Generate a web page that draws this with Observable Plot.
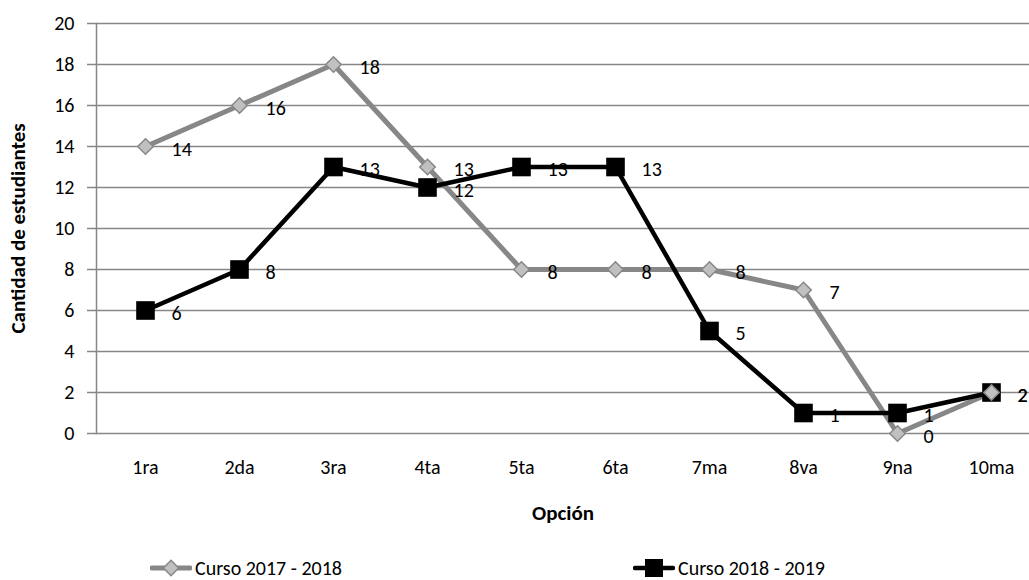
<!DOCTYPE html>
<html>
<head>
<meta charset="utf-8">
<script src="https://cdn.jsdelivr.net/npm/d3@7"></script>
<script src="https://cdn.jsdelivr.net/npm/@observablehq/plot@0.6"></script>
<style>
  html, body { margin: 0; padding: 0; background: #fff; overflow: hidden; }
  body { width: 1029px; height: 580px; font-family: Carlito, Calibri, Lato, "Liberation Sans", sans-serif; }
  #chart svg { display: block; }
  #legend { position: relative; height: 45px; font-size: 20px; color: #000; }
  .item { position: absolute; top: 21px; display: flex; align-items: center; }
  .item svg { display: block; margin-right: 3px; }
</style>
</head>
<body>
<div id="chart"></div>
<div id="legend"></div>
<script>
const categorias = ["1ra", "2da", "3ra", "4ta", "5ta", "6ta", "7ma", "8va", "9na", "10ma"];
const curso2017 = [14, 16, 18, 13, 8, 8, 8, 7, 0, 2];
const curso2018 = [6, 8, 13, 12, 13, 13, 5, 1, 1, 2];
const yTicks = [0, 2, 4, 6, 8, 10, 12, 14, 16, 18, 20];
const serieNombres = ["Curso 2017 - 2018", "Curso 2018 - 2019"];

const d17 = categorias.map((c, i) => ({cat: c, v: curso2017[i]}));
const d18 = categorias.map((c, i) => ({cat: c, v: curso2018[i]}));

const gridColor = "#878787";
const grayLine = "#878787";
const grayFill = "#c0c0c0";
const font = "Carlito, Calibri, Lato, 'Liberation Sans', sans-serif";

const chart = Plot.plot({
  width: 1029,
  height: 535,
  marginTop: 23,
  marginLeft: 96,
  marginRight: 0,
  marginBottom: 102,
  style: {fontFamily: font, fontSize: "20px", color: "#000", background: "#fff", overflow: "hidden"},
  x: {type: "point", domain: categorias, range: [143, 993], padding: 0},
  y: {domain: [0, 20]},
  marks: [
    Plot.gridY(yTicks, {stroke: gridColor, strokeOpacity: 1, strokeWidth: 1.5}),
    Plot.frame({anchor: "left", stroke: gridColor, strokeWidth: 1.5}),
    Plot.axisY(yTicks, {tickSize: 9, tickPadding: 13, stroke: gridColor, strokeWidth: 1.5, label: null, fontSize: 20, fill: "#000"}),
    Plot.axisX({tickSize: 0, tickPadding: 26, label: null, fontSize: 20, fill: "#000"}),
    Plot.text(["Opción"], {frameAnchor: "bottom", dy: 86, fontWeight: "bold", fontSize: 21, fill: "#000"}),
    Plot.text(["Cantidad de estudiantes"], {frameAnchor: "left", dx: -78, rotate: -90, textAnchor: "middle", fontWeight: "bold", fontSize: 21, fill: "#000"}),
    Plot.line(d17, {x: "cat", y: "v", stroke: grayLine, strokeWidth: 5}),
    Plot.line(d18, {x: "cat", y: "v", stroke: "#000", strokeWidth: 4.5}),
    Plot.dot(d18, {x: "cat", y: "v", symbol: "square", r: 10.5, fill: "#000", stroke: "none"}),
    Plot.dot(d17, {x: "cat", y: "v", symbol: "diamond2", r: 7, fill: grayFill, stroke: grayLine, strokeWidth: 1.5}),
    Plot.text(d17, {x: "cat", y: "v", text: "v", dx: 26, dy: 3, textAnchor: "start", fill: "#000", fontSize: 20}),
    Plot.text(d18, {x: "cat", y: "v", text: "v", dx: 26, dy: 3, textAnchor: "start", fill: "#000", fontSize: 20})
  ]
});
document.getElementById("chart").appendChild(chart);

// Legend
const legend = document.getElementById("legend");
const lefts = [150, 633];
serieNombres.forEach((name, i) => {
  const item = document.createElement("div");
  item.className = "item";
  item.style.left = lefts[i] + "px";
  const sw = d3.create("svg").attr("width", 42).attr("height", 24);
  if (i === 0) {
    sw.append("line").attr("x1", 2).attr("x2", 40).attr("y1", 12).attr("y2", 12)
      .attr("stroke", grayLine).attr("stroke-width", 5).attr("stroke-linecap", "round");
    sw.append("path").attr("d", d3.symbol(d3.symbolDiamond2, 150)())
      .attr("transform", "translate(21,12)").attr("fill", grayFill).attr("stroke", grayLine).attr("stroke-width", 1.5);
  } else {
    sw.append("line").attr("x1", 2).attr("x2", 40).attr("y1", 12).attr("y2", 12)
      .attr("stroke", "#000").attr("stroke-width", 4.5).attr("stroke-linecap", "round");
    sw.append("rect").attr("x", 12).attr("y", 3).attr("width", 18).attr("height", 18).attr("fill", "#000");
  }
  item.appendChild(sw.node());
  const t = document.createElement("span");
  t.textContent = name;
  item.appendChild(t);
  legend.appendChild(item);
});
</script>
</body>
</html>
